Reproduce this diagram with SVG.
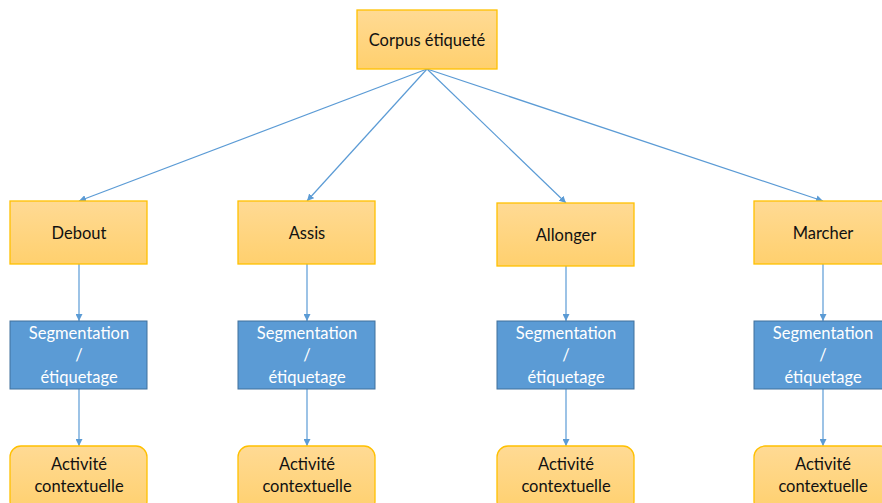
<svg xmlns="http://www.w3.org/2000/svg" width="882" height="503" viewBox="0 0 882 503">
<defs>
<linearGradient id="og" x1="0" y1="0" x2="0" y2="1">
<stop offset="0" stop-color="#FFDA94"/>
<stop offset="1" stop-color="#FFD06E"/>
</linearGradient>
<marker id="ah" viewBox="0 0 10 10" refX="10" refY="5" markerWidth="7" markerHeight="7" markerUnits="userSpaceOnUse" orient="auto">
<path d="M0,0 L10,5 L0,10 z" fill="#5B9BD5"/>
</marker>
<style>
.o{fill:url(#og);stroke:#FFC000;stroke-width:1.3}
.b{fill:#5B9BD5;stroke:#41719C;stroke-width:1}
.t{font-family:Lato,"Open Sans","Liberation Sans",sans-serif;font-size:16.5px;text-anchor:middle;fill:#111111}
.w{fill:#ffffff}
.c{stroke:#5B9BD5;stroke-width:1.2;fill:none;marker-end:url(#ah)}
</style>
</defs>
<rect width="882" height="503" fill="#ffffff"/>
<g id="connectors">
<line class="c" x1="427" y1="69" x2="79" y2="201"/>
<line class="c" x1="427" y1="69" x2="307" y2="201"/>
<line class="c" x1="427" y1="69" x2="566" y2="203"/>
<line class="c" x1="427" y1="69" x2="823" y2="201"/>
<line class="c" x1="79" y1="264" x2="79" y2="321"/>
<line class="c" x1="307" y1="264" x2="307" y2="321"/>
<line class="c" x1="566" y1="266" x2="566" y2="321"/>
<line class="c" x1="823" y1="264" x2="823" y2="321"/>
<line class="c" x1="79" y1="389" x2="79" y2="446"/>
<line class="c" x1="307" y1="389" x2="307" y2="446"/>
<line class="c" x1="566" y1="389" x2="566" y2="446"/>
<line class="c" x1="823" y1="389" x2="823" y2="446"/>
</g>
<g id="corpus"><rect class="o" x="357" y="10" width="140" height="59"/><text class="t" x="427" y="46">Corpus étiqueté</text></g>
<g id="debout"><rect class="o" x="10" y="201" width="137" height="63"/><text class="t" x="79" y="239">Debout</text></g>
<g id="assis"><rect class="o" x="238" y="201" width="137" height="63"/><text class="t" x="307" y="239">Assis</text></g>
<g id="allonger"><rect class="o" x="497" y="203" width="137" height="63"/><text class="t" x="566" y="241">Allonger</text></g>
<g id="marcher"><rect class="o" x="754" y="201" width="137" height="63"/><text class="t" x="823" y="239">Marcher</text></g>
<g id="seg1"><rect class="b" x="10" y="321" width="137" height="68"/><text class="t w" x="79" y="339">Segmentation</text><text class="t w" x="79" y="361">/</text><text class="t w" x="79" y="383">étiquetage</text></g>
<g id="seg2"><rect class="b" x="238" y="321" width="137" height="68"/><text class="t w" x="307" y="339">Segmentation</text><text class="t w" x="307" y="361">/</text><text class="t w" x="307" y="383">étiquetage</text></g>
<g id="seg3"><rect class="b" x="497" y="321" width="137" height="68"/><text class="t w" x="566" y="339">Segmentation</text><text class="t w" x="566" y="361">/</text><text class="t w" x="566" y="383">étiquetage</text></g>
<g id="seg4"><rect class="b" x="754" y="321" width="137" height="68"/><text class="t w" x="823" y="339">Segmentation</text><text class="t w" x="823" y="361">/</text><text class="t w" x="823" y="383">étiquetage</text></g>
<g id="act1"><rect class="o" x="10" y="446" width="137" height="66" rx="11"/><text class="t" x="79" y="470">Activité</text><text class="t" x="79" y="492">contextuelle</text></g>
<g id="act2"><rect class="o" x="238" y="446" width="137" height="66" rx="11"/><text class="t" x="307" y="470">Activité</text><text class="t" x="307" y="492">contextuelle</text></g>
<g id="act3"><rect class="o" x="497" y="446" width="137" height="66" rx="11"/><text class="t" x="566" y="470">Activité</text><text class="t" x="566" y="492">contextuelle</text></g>
<g id="act4"><rect class="o" x="754" y="446" width="137" height="66" rx="11"/><text class="t" x="823" y="470">Activité</text><text class="t" x="823" y="492">contextuelle</text></g>
</svg>
